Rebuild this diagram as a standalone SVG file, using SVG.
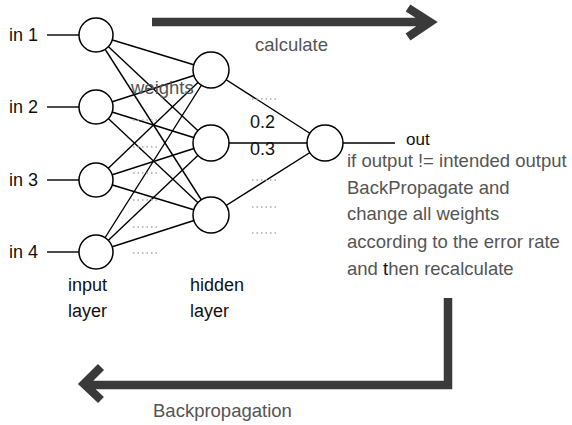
<svg xmlns="http://www.w3.org/2000/svg" width="572" height="425" viewBox="0 0 572 425">
<style>
.node{fill:#fff;stroke:#000;stroke-width:1.5}
.edge{stroke:#000;stroke-width:1.4;fill:none}
.lbl{font-family:"Liberation Sans",Arial,sans-serif;font-size:18px;fill:#111}
.gray{font-family:"Liberation Sans",Arial,sans-serif;font-size:18.5px;fill:#555}
.dots{stroke:#aaa;stroke-width:1.5;stroke-dasharray:1.5 3;fill:none}
.big{stroke:#3a3a3a;stroke-width:8.5;fill:none}
</style>
<rect width="572" height="425" fill="#fff"/>
<g id="connectors">
<line class="edge" x1="47" y1="35" x2="79" y2="35"/>
<line class="edge" x1="47" y1="107" x2="79" y2="107"/>
<line class="edge" x1="47" y1="180" x2="79" y2="180"/>
<line class="edge" x1="47" y1="252" x2="79" y2="252"/>
<line class="edge" x1="96" y1="35" x2="211" y2="70"/>
<line class="edge" x1="96" y1="35" x2="211" y2="143"/>
<line class="edge" x1="96" y1="35" x2="211" y2="215"/>
<line class="edge" x1="96" y1="107" x2="211" y2="70"/>
<line class="edge" x1="96" y1="107" x2="211" y2="143"/>
<line class="edge" x1="96" y1="107" x2="211" y2="215"/>
<line class="edge" x1="96" y1="180" x2="211" y2="70"/>
<line class="edge" x1="96" y1="180" x2="211" y2="143"/>
<line class="edge" x1="96" y1="180" x2="211" y2="215"/>
<line class="edge" x1="96" y1="252" x2="211" y2="70"/>
<line class="edge" x1="96" y1="252" x2="211" y2="143"/>
<line class="edge" x1="96" y1="252" x2="211" y2="215"/>
<line class="edge" x1="211" y1="70" x2="325" y2="143"/>
<line class="edge" x1="211" y1="143" x2="325" y2="143"/>
<line class="edge" x1="211" y1="215" x2="325" y2="143"/>
<line class="edge" x1="325" y1="143" x2="395" y2="143"/>
<path class="big" d="M152 22 H430 M408 8 L430 22 L408 37"/>
<path class="big" d="M448 298 V385 H84 M101 367 L84 384 L101 400"/>
</g>
<g id="dots">
<line class="dots" x1="133" y1="120" x2="158" y2="120"/>
<line class="dots" x1="133" y1="147" x2="158" y2="147"/>
<line class="dots" x1="133" y1="173" x2="158" y2="173"/>
<line class="dots" x1="133" y1="200" x2="158" y2="200"/>
<line class="dots" x1="133" y1="227" x2="158" y2="227"/>
<line class="dots" x1="133" y1="253" x2="158" y2="253"/>
<line class="dots" x1="252" y1="99" x2="276" y2="99"/>
<line class="dots" x1="252" y1="180" x2="276" y2="180"/>
<line class="dots" x1="252" y1="207" x2="276" y2="207"/>
<line class="dots" x1="252" y1="233" x2="276" y2="233"/>
</g>
<g id="in1"><circle class="node" cx="96" cy="35" r="17"/><text class="lbl" x="9" y="41">in 1</text></g>
<g id="in2"><circle class="node" cx="96" cy="107" r="17"/><text class="lbl" x="9" y="113">in 2</text></g>
<g id="in3"><circle class="node" cx="96" cy="180" r="17"/><text class="lbl" x="9" y="186">in 3</text></g>
<g id="in4"><circle class="node" cx="96" cy="252" r="17"/><text class="lbl" x="9" y="258">in 4</text></g>
<g id="h1"><circle class="node" cx="211" cy="70" r="18"/></g>
<g id="h2"><circle class="node" cx="211" cy="143" r="18"/></g>
<g id="h3"><circle class="node" cx="211" cy="215" r="18"/></g>
<g id="out"><circle class="node" cx="325" cy="143" r="18"/><text class="lbl" x="406" y="145" style="font-size:17px">out</text></g>
<g id="labels">
<text class="gray" x="131" y="94">weights</text>
<text class="lbl" x="250" y="128">0.2</text>
<text class="lbl" x="250" y="155">0.3</text>
<text class="gray" x="255" y="51">calculate</text>
<text class="lbl" x="68" y="291">input</text>
<text class="lbl" x="68" y="317">layer</text>
<text class="lbl" x="190" y="291">hidden</text>
<text class="lbl" x="190" y="317">layer</text>
<text class="gray" x="347" y="167">if output != intended output</text>
<text class="gray" x="347" y="194">BackPropagate and</text>
<text class="gray" x="347" y="220">change all weights</text>
<text class="gray" x="347" y="248">according to the error rate</text>
<text class="gray" x="347" y="275">and <tspan fill="#111">t</tspan>hen recalculate</text>
<text class="gray" x="153" y="417">Backpropagation</text>
</g>
</svg>
